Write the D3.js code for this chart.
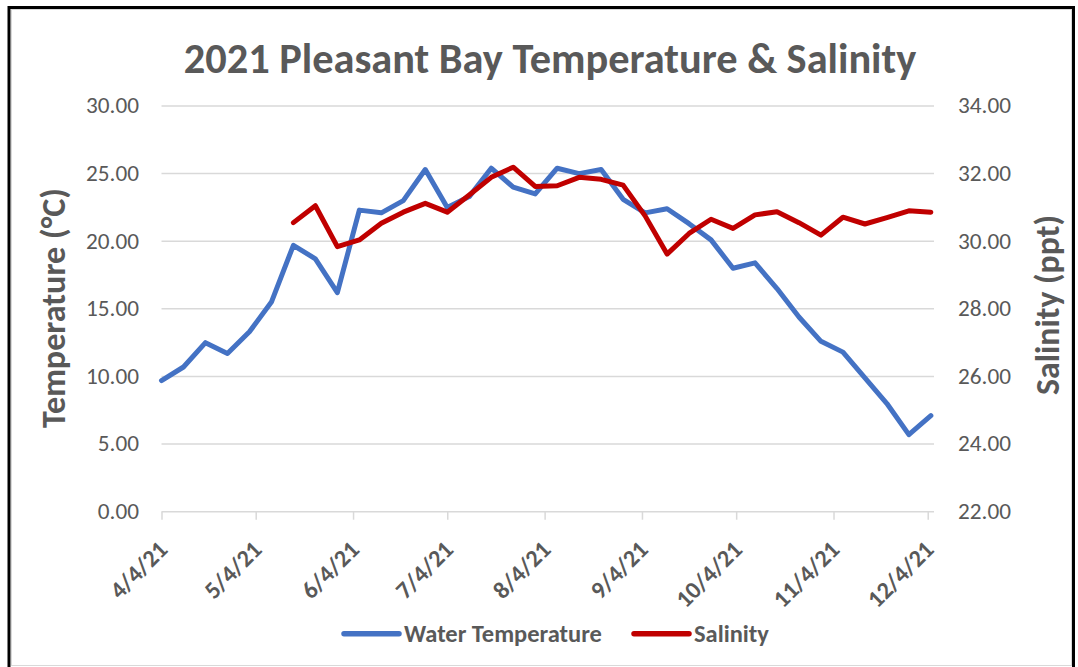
<!DOCTYPE html>
<html>
<head>
<meta charset="utf-8">
<script src="https://cdn.jsdelivr.net/npm/d3@7"></script>
<style>
  body { margin: 0; background: #fff; }
  text { font-family: Carlito, Calibri, Lato, sans-serif; fill: #595959; }
</style>
</head>
<body>
<div id="chart"></div>
<script>
// Sample dates (weekly readings)
const sampleDates = [
  "4/4/21", "4/11/21", "4/18/21", "4/25/21", "5/2/21", "5/9/21", "5/16/21", "5/23/21", "5/30/21",
  "6/6/21", "6/13/21", "6/20/21", "6/27/21", "7/4/21", "7/11/21", "7/18/21", "7/25/21", "8/1/21",
  "8/8/21", "8/15/21", "8/22/21", "8/29/21", "9/5/21", "9/12/21", "9/19/21", "9/26/21", "10/3/21",
  "10/10/21", "10/17/21", "10/24/21", "10/31/21", "11/7/21", "11/14/21", "11/21/21", "11/28/21", "12/5/21"
];

// Water temperature in °C
const waterTemp = [
  9.7, 10.7, 12.5, 11.7, 13.3, 15.5, 19.7, 18.7, 16.2,
  22.3, 22.1, 23.0, 25.3, 22.5, 23.3, 25.4, 24.0, 23.5,
  25.4, 25.0, 25.3, 23.1, 22.1, 22.4, 21.3, 20.1, 18.0,
  18.4, 16.5, 14.4, 12.6, 11.8, 9.9, 8.0, 5.7, 7.1
];

// Salinity in ppt (no readings before mid May)
const salinity = [
  null, null, null, null, null, null, 30.55, 31.05, 29.84,
  30.04, 30.53, 30.86, 31.12, 30.86, 31.37, 31.89, 32.19, 31.62,
  31.64, 31.89, 31.83, 31.66, 30.75, 29.62, 30.23, 30.65, 30.38,
  30.78, 30.87, 30.55, 30.18, 30.71, 30.51, 30.70, 30.90, 30.86
];

// Axis ticks
const xTickLabels = ["4/4/21", "5/4/21", "6/4/21", "7/4/21", "8/4/21", "9/4/21", "10/4/21", "11/4/21", "12/4/21"];
const xDomainLabels = ["4/4/21", "12/6/21"];
const tempTicks = [0, 5, 10, 15, 20, 25, 30];
const salTicks = [22, 24, 26, 28, 30, 32, 34];

const width = 1078;
const height = 667;
const plot = { left: 161.5, right: 934, top: 106, bottom: 511.7 };
const parseDate = d3.timeParse("%m/%d/%y");

const svg = d3.select("#chart").append("svg")
  .attr("width", width)
  .attr("height", height);

// Finds the font size that gives a text the wanted width (fallback fonts differ from Calibri)
function fontSizeFor(str, weight, targetWidth) {
  const probe = svg.append("text")
    .style("font-size", "20px")
    .style("font-weight", weight)
    .text(str);
  const w = probe.node().getComputedTextLength();
  probe.remove();
  return 20 * targetWidth / w;
}

// White background and frame
svg.append("rect").attr("width", width).attr("height", height).attr("fill", "#fff");
svg.append("rect")
  .attr("x", 11.5).attr("y", 9.5)
  .attr("width", 1060).attr("height", 656)
  .attr("fill", "none").attr("stroke", "#d9d9d9").attr("stroke-width", 1);
svg.append("path")
  .attr("d", "M9,667 V7.5 H1073.5 V667")
  .attr("fill", "none").attr("stroke", "#000").attr("stroke-width", 3);

// Scales
const x = d3.scaleTime()
  .domain(xDomainLabels.map(parseDate))
  .range([plot.left, plot.right]);

const yTemp = d3.scaleLinear()
  .domain([0, 30])
  .range([plot.bottom, plot.top]);

const ySal = d3.scaleLinear()
  .domain([22, 34])
  .range([plot.bottom, plot.top]);

// Horizontal gridlines
svg.append("g")
  .selectAll("line")
  .data(tempTicks.filter(d => d > 0))
  .enter()
  .append("line")
  .attr("x1", plot.left).attr("x2", plot.right)
  .attr("y1", d => yTemp(d)).attr("y2", d => yTemp(d))
  .attr("stroke", "#d9d9d9").attr("stroke-width", 1.5);

// Tick label size so "30.00" is about 53px wide
const tickSize = fontSizeFor("30.00", "normal", 53);

// Left axis labels
svg.append("g")
  .selectAll("text")
  .data(tempTicks)
  .enter()
  .append("text")
  .attr("x", 139)
  .attr("y", d => yTemp(d) + 7.3)
  .attr("text-anchor", "end")
  .style("font-size", tickSize + "px")
  .text(d => d.toFixed(2));

// Right axis labels
svg.append("g")
  .selectAll("text")
  .data(salTicks)
  .enter()
  .append("text")
  .attr("x", 958)
  .attr("y", d => ySal(d) + 7.3)
  .attr("text-anchor", "start")
  .style("font-size", tickSize + "px")
  .text(d => d.toFixed(2));

// Bottom axis with the month ticks
const xAxis = d3.axisBottom(x)
  .tickValues(xTickLabels.map(parseDate))
  .tickSize(8)
  .tickFormat("");

const xAxisG = svg.append("g")
  .attr("transform", `translate(0,${plot.bottom})`)
  .call(xAxis);
xAxisG.select(".domain").attr("stroke", "#d9d9d9").attr("stroke-width", 1.5)
  .attr("d", `M${plot.left},0H${plot.right}`);
xAxisG.selectAll(".tick line").attr("stroke", "#d9d9d9").attr("stroke-width", 1.5);

// Rotated date labels
const dateSize = fontSizeFor("12/4/21", "bold", 82);
svg.append("g")
  .selectAll("text")
  .data(xTickLabels)
  .enter()
  .append("text")
  .attr("transform", d => `translate(${x(parseDate(d)) + 7.5},551) rotate(-45)`)
  .attr("text-anchor", "end")
  .style("font-size", dateSize + "px")
  .style("font-weight", "bold")
  .text(d => d);

// Lines
const tempLine = d3.line()
  .x((d, i) => x(parseDate(sampleDates[i])))
  .y(d => yTemp(d));

const salLine = d3.line()
  .defined(d => d !== null)
  .x((d, i) => x(parseDate(sampleDates[i])))
  .y(d => ySal(d));

svg.append("path")
  .datum(waterTemp)
  .attr("d", tempLine)
  .attr("fill", "none")
  .attr("stroke", "#4472c4")
  .attr("stroke-width", 5)
  .attr("stroke-linejoin", "round")
  .attr("stroke-linecap", "round");

svg.append("path")
  .datum(salinity)
  .attr("d", salLine)
  .attr("fill", "none")
  .attr("stroke", "#c00000")
  .attr("stroke-width", 5)
  .attr("stroke-linejoin", "round")
  .attr("stroke-linecap", "round");

// Title
const titleText = "2021 Pleasant Bay Temperature & Salinity";
svg.append("text")
  .attr("x", 550)
  .attr("y", 73)
  .attr("text-anchor", "middle")
  .style("font-size", fontSizeFor(titleText, "bold", 733) + "px")
  .style("font-weight", "bold")
  .text(titleText);

// Axis titles
const tempTitleSize = fontSizeFor("Temperature (°C)", "bold", 240);
svg.append("text")
  .attr("transform", `translate(${40 + 0.72 * tempTitleSize},308) rotate(-90)`)
  .attr("text-anchor", "middle")
  .style("font-size", tempTitleSize + "px")
  .style("font-weight", "bold")
  .text("Temperature (°C)");

const salTitleSize = fontSizeFor("Salinity (ppt)", "bold", 180);
svg.append("text")
  .attr("transform", `translate(${1035 + 0.72 * salTitleSize},305) rotate(-90)`)
  .attr("text-anchor", "middle")
  .style("font-size", salTitleSize + "px")
  .style("font-weight", "bold")
  .text("Salinity (ppt)");

// Legend
const legendItems = [
  { name: "Water Temperature", color: "#4472c4", x: 344 },
  { name: "Salinity", color: "#c00000", x: 634 }
];
const legendSize = fontSizeFor("Water Temperature", "bold", 198);
const legend = svg.append("g");
legend.selectAll("line")
  .data(legendItems)
  .enter()
  .append("line")
  .attr("x1", d => d.x).attr("x2", d => d.x + 55)
  .attr("y1", 633.7).attr("y2", 633.7)
  .attr("stroke", d => d.color)
  .attr("stroke-width", 5.5)
  .attr("stroke-linecap", "round");
legend.selectAll("text")
  .data(legendItems)
  .enter()
  .append("text")
  .attr("x", d => d.x + 60)
  .attr("y", 642)
  .style("font-size", legendSize + "px")
  .style("font-weight", "bold")
  .text(d => d.name);
</script>
</body>
</html>
